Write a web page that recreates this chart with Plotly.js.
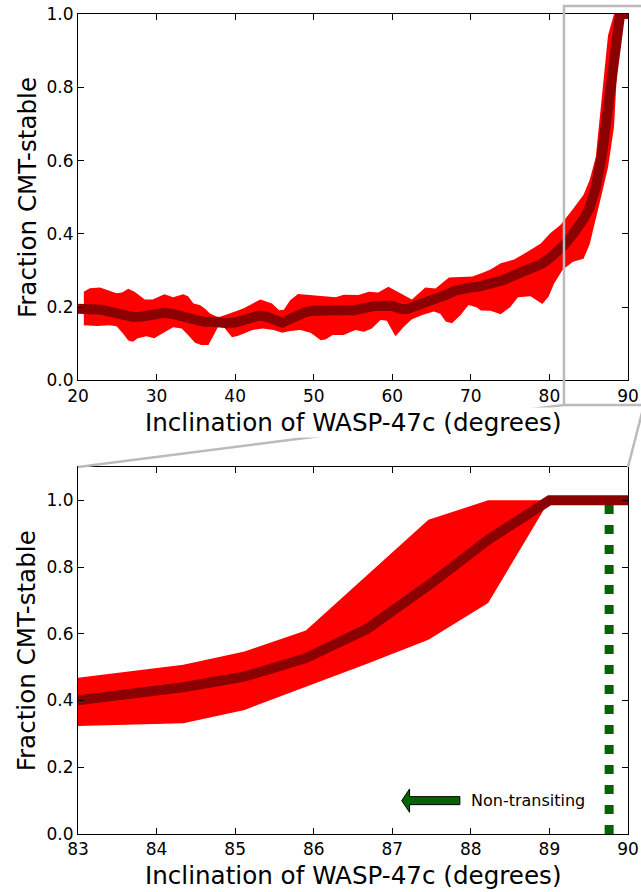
<!DOCTYPE html>
<html>
<head>
<meta charset="utf-8">
<script src="https://cdn.plot.ly/plotly-3.0.1.min.js"></script>
<style>html,body{margin:0;padding:0;background:#fff;}#chart{width:641px;height:892px;}</style>
</head>
<body>
<div id="chart"></div>
<script>
// ---- data ----
const medX = [20,21,22,23,24,25,26,27,28,29,30,31,32,33,34,35,36,37,38,39,40,41,42,43,44,45,46,47,48,49,50,51,52,53,54,55,56,57,58,59,60,61,62,63,64,65,66,67,68,69,70,71,72,73,74,75,76,77,78,79,80,81,82,83,83.54,84.34,85.12,85.9,86.68,87.46,88.22,89.0,89.78,90];
const medY = [0.196,0.196,0.195,0.193,0.188,0.182,0.176,0.173,0.174,0.179,0.184,0.185,0.182,0.176,0.17,0.163,0.16,0.16,0.157,0.156,0.158,0.163,0.172,0.177,0.174,0.165,0.158,0.168,0.18,0.187,0.19,0.192,0.192,0.192,0.192,0.191,0.193,0.2,0.204,0.204,0.203,0.196,0.195,0.204,0.21,0.216,0.224,0.235,0.245,0.252,0.254,0.256,0.26,0.266,0.273,0.282,0.291,0.298,0.306,0.318,0.333,0.35,0.372,0.40,0.415,0.44,0.472,0.527,0.615,0.745,0.882,1.0,1.0,1.0];

const upX = [20.74,21.5,22.8,23.9,24.9,25.6,26.4,27.2,28.5,29.5,31.0,32.1,33.4,34.0,34.7,35.5,36.1,36.8,37.7,38.1,39.0,40.0,41.1,42.2,43.2,44.7,45.6,46.2,47.0,48.0,49.6,51.3,52.8,53.8,55.7,57.0,58.2,59.5,61.0,62.5,64.2,65.5,67.2,68.7,70.2,71.5,72.5,73.8,75.5,77.2,78.9,80.1,81.4,83.0,83.54,84.34,85.12,85.9,87.46,88.22,89.0,90];
const upY = [0.242,0.252,0.254,0.245,0.238,0.24,0.25,0.242,0.221,0.221,0.235,0.227,0.235,0.23,0.21,0.206,0.197,0.183,0.174,0.174,0.18,0.188,0.197,0.21,0.221,0.21,0.192,0.193,0.219,0.236,0.233,0.23,0.227,0.234,0.233,0.242,0.24,0.256,0.238,0.221,0.254,0.251,0.281,0.283,0.284,0.294,0.303,0.32,0.33,0.351,0.374,0.402,0.424,0.468,0.483,0.507,0.547,0.61,0.942,1.0,1.0,1.0];

const loX = [20.74,22.4,24.0,24.9,25.7,26.4,27.0,27.6,28.7,29.7,30.8,32.1,33.2,34.0,34.9,35.7,36.6,37.3,38.1,38.8,39.6,40.4,41.1,42.2,43.5,44.9,46.0,47.0,48.3,49.6,50.9,51.5,52.4,53.8,55.3,56.4,57.4,58.5,59.3,60.4,61.5,62.5,63.8,65.3,66.1,66.8,67.6,68.7,69.7,70.7,71.3,72.5,73.8,75.0,76.0,77.6,79.1,79.9,80.6,81.7,83.0,83.54,84.34,85.12,85.9,86.68,87.46,88.22,89.0,90];
const loY = [0.151,0.149,0.151,0.148,0.129,0.109,0.106,0.115,0.121,0.115,0.129,0.145,0.142,0.124,0.103,0.097,0.097,0.125,0.158,0.14,0.118,0.122,0.127,0.138,0.142,0.138,0.13,0.135,0.138,0.13,0.11,0.112,0.124,0.124,0.138,0.133,0.142,0.165,0.163,0.121,0.147,0.167,0.179,0.188,0.182,0.161,0.156,0.179,0.206,0.2,0.191,0.19,0.181,0.2,0.227,0.23,0.209,0.229,0.265,0.303,0.324,0.328,0.332,0.372,0.44,0.51,0.582,0.692,1.0,1.0];

const transitLimitX = 89.76;          // non-transiting boundary (green dotted)
const transitLimitY = [0, 1.0];
const arrowTailX = 87.86, arrowBaseX = 87.22, arrowTipX = 87.12, arrowY = 0.1;
const arrowBody = 0.012, arrowHead = 0.035;
const noteText = "Non-transiting", noteX = 87.97;

const topXTicks = [20,30,40,50,60,70,80,90];
const topYTicks = [0.0,0.2,0.4,0.6,0.8,1.0];
const botXTicks = [83,84,85,86,87,88,89,90];
const botYTicks = [0.0,0.2,0.4,0.6,0.8,1.0];

const xTitle = "Inclination of WASP-47c (degrees)";
const yTitle = "Fraction CMT-stable";

// ---- build traces ----
const bandX = upX.concat(loX.slice().reverse());
const bandY = upY.concat(loY.slice().reverse());
const RED = "#ff0000", DARK = "#8b0000", GREEN = "#006400";

const bandTrace = (xa, ya) => ({x: bandX, y: bandY, xaxis: xa, yaxis: ya, type: "scatter", mode: "lines",
  fill: "toself", fillcolor: RED, line: {width: 0, color: RED}, hoverinfo: "skip", showlegend: false});
const medTrace = (xa, ya) => ({x: medX, y: medY, xaxis: xa, yaxis: ya, type: "scatter", mode: "lines",
  line: {color: DARK, width: 10}, hoverinfo: "skip", showlegend: false});

const traces = [
  bandTrace("x", "y"), medTrace("x", "y"),
  bandTrace("x2", "y2"),
  {x: [transitLimitX, transitLimitX], y: transitLimitY, xaxis: "x2", yaxis: "y2", type: "scatter", mode: "lines",
   line: {color: GREEN, width: 9, dash: "9px,11px"}, hoverinfo: "skip", showlegend: false},
  medTrace("x2", "y2")
];

// ---- layout ----
const W = 641, H = 892, L = 78, R = 13, T = 14, B = 58;
const topDomain = [0.55305, 1], botDomain = [0, 0.44756];
const axisBase = {
  showline: true, linecolor: "black", linewidth: 1, mirror: "ticks",
  ticks: "inside", ticklen: 6, tickwidth: 1, tickcolor: "black",
  showgrid: false, zeroline: false, tickfont: {size: 17, color: "black", family: "DejaVu Sans"}
};
const grey = "#bbbbbb";
const box = {x0: 0.8836, x1: 1.029, y0: 0.5232, y1: 1.0098};

const shapes = [
  {type: "rect", xref: "paper", yref: "paper", x0: box.x0, x1: box.x1, y0: box.y0, y1: box.y1,
   line: {color: grey, width: 2.5}, fillcolor: "rgba(0,0,0,0)", layer: "above"},
  {type: "line", xref: "paper", yref: "paper", x0: box.x0, y0: box.y0, x1: 0, y1: botDomain[1],
   line: {color: grey, width: 2.5}, layer: "above"},
  {type: "line", xref: "paper", yref: "paper", x0: box.x1, y0: box.y0, x1: 1, y1: botDomain[1],
   line: {color: grey, width: 2.5}, layer: "above"},
  {type: "path", xref: "x2", yref: "y2", layer: "above",
   path: `M${arrowTailX},${arrowY + arrowBody} L${arrowBaseX},${arrowY + arrowBody} L${arrowBaseX},${arrowY + arrowHead} L${arrowTipX},${arrowY} L${arrowBaseX},${arrowY - arrowHead} L${arrowBaseX},${arrowY - arrowBody} L${arrowTailX},${arrowY - arrowBody} Z`,
   fillcolor: GREEN, line: {color: "black", width: 1}}
];

const tFont = {size: 24.6, color: "black", family: "DejaVu Sans"};
const annotations = [
  {xref: "paper", yref: "paper", x: 0.5, y: 0.5024, text: xTitle, showarrow: false, font: tFont,
   bgcolor: "white", borderpad: 0, xanchor: "center", yanchor: "middle"},
  {xref: "paper", yref: "paper", x: 0.5, y: -0.05, text: xTitle, showarrow: false, font: tFont,
   xanchor: "center", yanchor: "middle"},
  {xref: "paper", yref: "paper", x: -0.093, y: (topDomain[0] + topDomain[1]) / 2, text: yTitle, showarrow: false,
   font: tFont, textangle: -90, xanchor: "center", yanchor: "middle"},
  {xref: "paper", yref: "paper", x: -0.093, y: (botDomain[0] + botDomain[1]) / 2, text: yTitle, showarrow: false,
   font: tFont, textangle: -90, xanchor: "center", yanchor: "middle"},
  {xref: "x2", yref: "y2", x: noteX, y: arrowY, text: noteText, showarrow: false,
   font: {size: 16, color: "black", family: "DejaVu Sans"}, xanchor: "left", yanchor: "middle"}
];

const layout = {
  width: W, height: H, margin: {l: L, r: R, t: T, b: B, pad: 0},
  paper_bgcolor: "white", plot_bgcolor: "white",
  font: {family: "DejaVu Sans", color: "black"},
  showlegend: false,
  xaxis: Object.assign({}, axisBase, {domain: [0, 1], anchor: "y", range: [20, 90], tickvals: topXTicks}),
  yaxis: Object.assign({}, axisBase, {domain: topDomain, anchor: "x", range: [0, 1], tickvals: topYTicks, tickformat: ".1f"}),
  xaxis2: Object.assign({}, axisBase, {domain: [0, 1], anchor: "y2", range: [83, 90], tickvals: botXTicks}),
  yaxis2: Object.assign({}, axisBase, {domain: botDomain, anchor: "x2", range: [0, 1.1], tickvals: botYTicks, tickformat: ".1f"}),
  shapes: shapes,
  annotations: annotations
};

Plotly.newPlot("chart", traces, layout, {staticPlot: true, displayModeBar: false});
</script>
</body>
</html>
